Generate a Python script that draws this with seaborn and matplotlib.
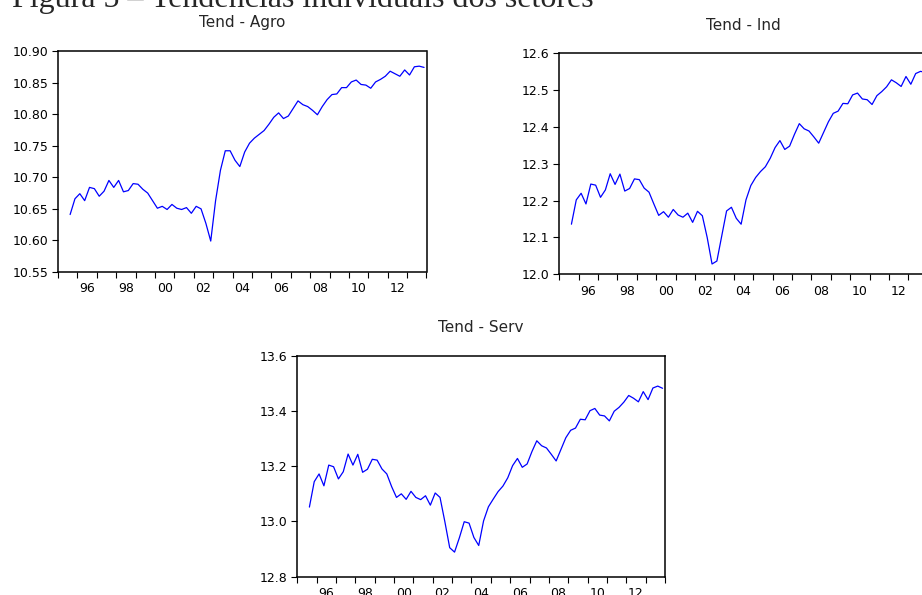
import numpy as np
import pandas as pd
import matplotlib
matplotlib.use("Agg")
import matplotlib.pyplot as plt
import seaborn as sns

# Quarterly sample 1995Q3 - 2013Q4
periods = pd.period_range("1995Q3", "2013Q4", freq="Q")

agro = [10.641, 10.666, 10.674, 10.663, 10.684, 10.682, 10.670, 10.678, 10.695, 10.684,
        10.695, 10.677, 10.679, 10.690, 10.689, 10.681, 10.675, 10.663, 10.651, 10.654,
        10.649, 10.657, 10.651, 10.649, 10.652, 10.643, 10.654, 10.650, 10.627, 10.599,
        10.663, 10.711, 10.742, 10.742, 10.727, 10.717, 10.740, 10.754, 10.762, 10.768,
        10.774, 10.784, 10.795, 10.802, 10.793, 10.797, 10.809, 10.821, 10.815, 10.812,
        10.806, 10.799, 10.812, 10.823, 10.831, 10.832, 10.842, 10.842, 10.851, 10.854,
        10.847, 10.846, 10.841, 10.851, 10.855, 10.860, 10.868, 10.864, 10.860, 10.870,
        10.862, 10.875, 10.876, 10.874]

ind = [12.136, 12.202, 12.220, 12.191, 12.245, 12.242, 12.209, 12.229, 12.273, 12.244,
       12.272, 12.226, 12.233, 12.259, 12.257, 12.234, 12.223, 12.191, 12.160, 12.170,
       12.155, 12.176, 12.161, 12.155, 12.166, 12.141, 12.171, 12.159, 12.100, 12.028,
       12.036, 12.104, 12.172, 12.182, 12.152, 12.136, 12.202, 12.241, 12.263, 12.279,
       12.292, 12.315, 12.344, 12.363, 12.339, 12.348, 12.380, 12.409, 12.395, 12.389,
       12.373, 12.356, 12.385, 12.414, 12.437, 12.443, 12.464, 12.463, 12.487, 12.492,
       12.476, 12.474, 12.461, 12.485, 12.496, 12.509, 12.528, 12.520, 12.510, 12.537,
       12.516, 12.545, 12.551, 12.548]

serv = [13.052, 13.144, 13.172, 13.129, 13.204, 13.198, 13.154, 13.180, 13.244, 13.204,
        13.243, 13.178, 13.189, 13.225, 13.222, 13.190, 13.172, 13.126, 13.087, 13.100,
        13.080, 13.109, 13.087, 13.079, 13.093, 13.059, 13.103, 13.087, 12.999, 12.905,
        12.889, 12.941, 12.999, 12.994, 12.942, 12.913, 13.002, 13.053, 13.081, 13.108,
        13.128, 13.158, 13.202, 13.228, 13.196, 13.208, 13.253, 13.292, 13.274, 13.266,
        13.243, 13.219, 13.261, 13.303, 13.330, 13.338, 13.370, 13.368, 13.401, 13.409,
        13.385, 13.382, 13.364, 13.399, 13.413, 13.432, 13.456, 13.446, 13.433, 13.470,
        13.441, 13.483, 13.490, 13.482]

year_labels = ["96", "98", "00", "02", "04", "06", "08", "10", "12"]
label_years = [1996, 1998, 2000, 2002, 2004, 2006, 2008, 2010, 2012]

agro_ticks = [10.55, 10.60, 10.65, 10.70, 10.75, 10.80, 10.85, 10.90]
ind_ticks = [12.0, 12.1, 12.2, 12.3, 12.4, 12.5, 12.6]
serv_ticks = [12.8, 13.0, 13.2, 13.4, 13.6]

# each quarter is drawn at the middle of its slot on a yearly axis
xpos = periods.year + (periods.quarter - 0.5) / 4.0
df = pd.DataFrame({"t": xpos, "Agro": agro, "Ind": ind, "Serv": serv})

sns.set_style("white")
plt.rcParams["font.family"] = ["DejaVu Sans"]

fig = plt.figure(figsize=(9.22, 5.95), dpi=100)

fig.text(12 / 922, 1 - 7 / 595, "Figura 5 \u2013 Tend\u00eancias individuais dos setores",
         family=["Liberation Serif", "DejaVu Serif"], fontsize=23,
         ha="left", va="baseline")

panels = [
    ("Tend - Agro", "Agro", [58 / 922, 323 / 595, 368.5 / 922, 221 / 595], agro_ticks, "{:.2f}"),
    ("Tend - Ind", "Ind", [559.3 / 922, 320.7 / 595, 368.5 / 922, 221 / 595], ind_ticks, "{:.1f}"),
    ("Tend - Serv", "Serv", [297.3 / 922, 18.3 / 595, 367.7 / 922, 221 / 595], serv_ticks, "{:.1f}"),
]

for title, col, rect, yt, fmt in panels:
    ax = fig.add_axes(rect)
    sns.lineplot(data=df, x="t", y=col, ax=ax, color="#0000ff", linewidth=0.9)
    ax.set_xlim(1995, 2014)
    ax.set_ylim(yt[0], yt[-1])
    ax.set_xlabel("")
    ax.set_ylabel("")
    ax.set_title(title, fontsize=11, pad=17)

    ax.set_yticks(yt)
    ax.set_yticklabels([fmt.format(v) for v in yt])
    ax.tick_params(axis="y", which="major", direction="out", length=4.5, width=0.8,
                   pad=2.5, labelsize=9, colors="black", left=True)

    # year boundaries as ticks, labels centred in the even years
    ax.set_xticks(np.arange(1995, 2015))
    ax.set_xticklabels([])
    ax.set_xticks([y + 0.5 for y in label_years], minor=True)
    ax.set_xticklabels(year_labels, minor=True)
    ax.tick_params(axis="x", which="major", direction="out", length=4, width=0.8,
                   bottom=True, colors="black")
    ax.tick_params(axis="x", which="minor", length=0, pad=7.5, labelsize=9,
                   bottom=True, colors="black")

    for s in ax.spines.values():
        s.set_visible(True)
        s.set_color("black")
        s.set_linewidth(1.1)
    ax.grid(False)

fig.savefig("out.png", dpi=100)
